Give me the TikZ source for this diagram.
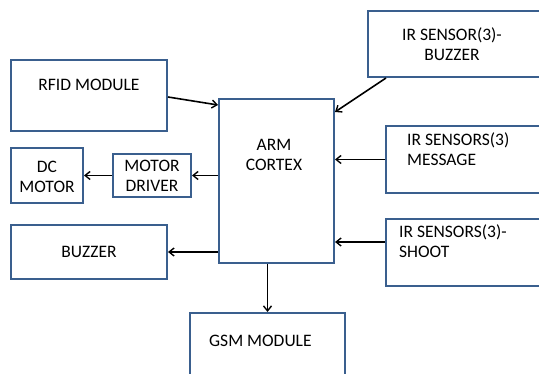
\documentclass[tikz,border=0pt]{standalone}
\usepackage{fontspec}
\setmainfont{Carlito}
\usetikzlibrary{arrows.meta}
\definecolor{boxblue}{HTML}{3A5F8E}
\tikzset{
  blk/.style={draw=boxblue, line width=2pt, rectangle, inner sep=0pt, fill=white},
  lbl/.style={inner sep=0pt, font=\fontsize{17.5}{20}\selectfont, text=black},
  con/.style={draw=black, line width=1.6pt, -{Straight Barb[length=5pt,width=8pt,line width=1.4pt]}},
}
\begin{document}
\begin{tikzpicture}[x=1pt,y=-1pt]
\useasboundingbox (0,0) rectangle (539,374);
\clip (0,0) rectangle (539,374);
% boxes
\node[blk, minimum width=156pt, minimum height=71pt] (rfid) at (89,95.5) {};
\node[blk, minimum width=115pt, minimum height=164pt] (arm) at (276.5,181) {};
\node[blk, minimum width=72pt, minimum height=55pt] (dc) at (47,175.5) {};
\node[blk, minimum width=78pt, minimum height=43pt] (drv) at (152,175.5) {};
\node[blk, minimum width=156pt, minimum height=54pt] (buz) at (89,252) {};
\node[blk, minimum width=155pt, minimum height=107pt] (gsm) at (267.5,366.5) {};
\node[blk, minimum width=232pt, minimum height=66pt] (irb) at (484,44) {};
\node[blk, minimum width=214pt, minimum height=67pt] (irm) at (493,159.5) {};
\node[blk, minimum width=214pt, minimum height=67pt] (irs) at (493,252.5) {};
% texts (base anchor of a multi-line node = last line's baseline)
\node[lbl, anchor=base] (trfid) at (89,91) {RFID MODULE};
\node[lbl, anchor=base, align=center] (tarm) at (274,171) {ARM\\CORTEX};
\node[lbl, anchor=base, align=center] (tdc) at (47,193) {DC\\MOTOR};
\node[lbl, anchor=base, align=center] (tdrv) at (152,192) {MOTOR\\DRIVER};
\node[lbl, anchor=base] (tbuz) at (89,258) {BUZZER};
\node[lbl, anchor=base west] (tgsm) at (209,347) {GSM MODULE};
\node[lbl, anchor=base, align=center] (tirb) at (452,61) {IR SENSOR(3)-\\BUZZER};
\node[lbl, anchor=base west, align=left] (tirm) at (407,166) {IR SENSORS(3)\\MESSAGE};
\node[lbl, anchor=base west, align=left] (tirs) at (399,258) {IR SENSORS(3)-\\SHOOT};
% connectors
\draw[con] ([yshift=-1.5pt]rfid.east) -- ([yshift=-7pt]arm.north west);
\draw[con] ([xshift=19pt]irb.south west) -- ([yshift=-14pt]arm.north east);
\draw[con] (irm.west) -- (irm.west -| arm.east);
\draw[con] ([yshift=10.5pt]irs.west) -- ([yshift=10.5pt]irs.west -| arm.east);
\draw[con] (drv.east -| arm.west) -- (drv.east);
\draw[con] (drv.west) -- (drv.west -| dc.east);
\draw[con] (buz.east -| arm.west) -- (buz.east);
\draw[con] (arm.south -| gsm.north) -- (gsm.north);
\end{tikzpicture}
\end{document}
